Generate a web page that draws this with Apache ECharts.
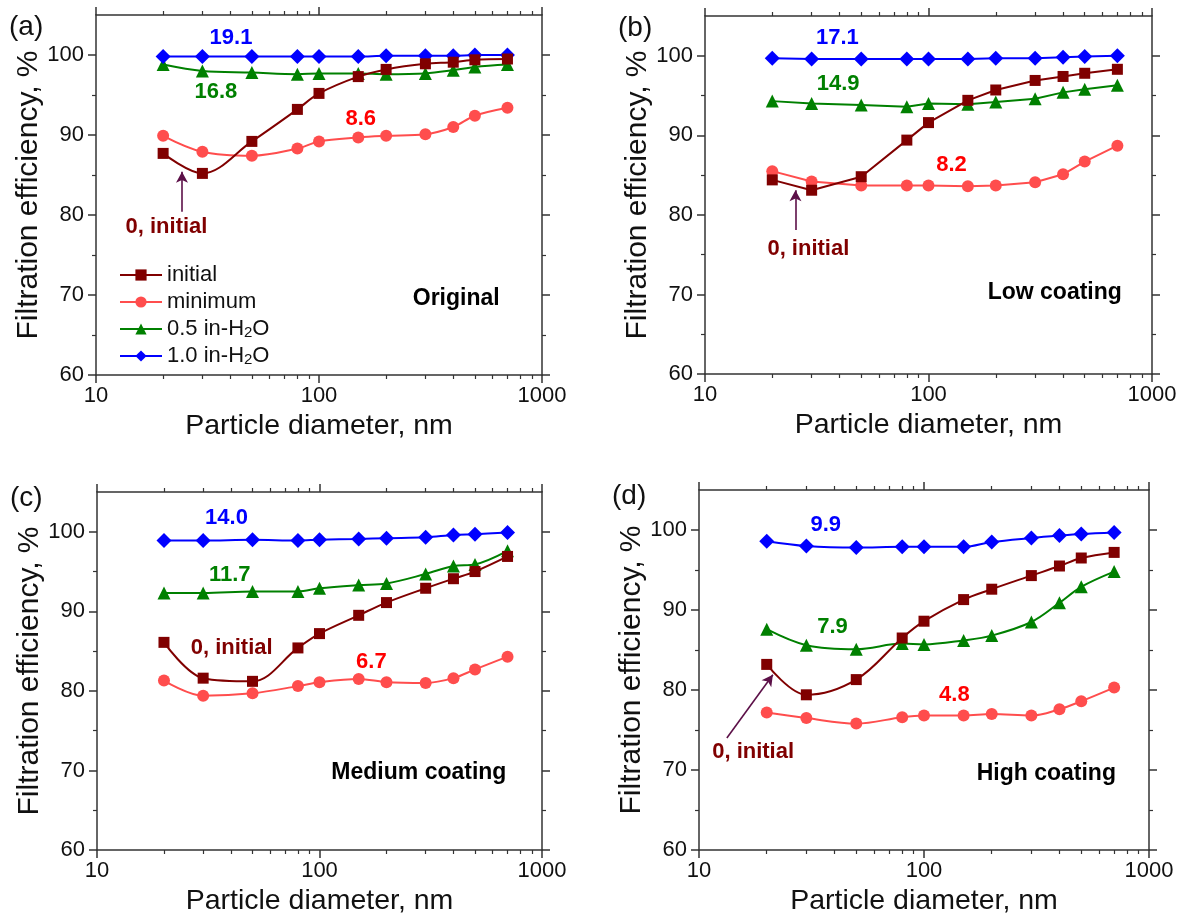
<!DOCTYPE html>
<html><head><meta charset="utf-8">
<script src="https://cdn.jsdelivr.net/npm/echarts@6/dist/echarts.min.js"></script>
<style>html,body{margin:0;padding:0;background:#fff}#c{width:1187px;height:920px}</style>
</head><body><div id="c"></div>
<script>
// ---------- data ----------
const diameters = [20, 30, 50, 80, 100, 150, 200, 300, 400, 500, 700];
const xTickLabels = [10, 100, 1000];
const xMinorTicks = [20, 30, 40, 50, 60, 70, 80, 90, 200, 300, 400, 500, 600, 700, 800, 900];
const yTickLabels = [60, 70, 80, 90, 100];
const yMinorTicks = [65, 75, 85, 95];
const seriesNames = ['initial', 'minimum', '0.5 in-H2O', '1.0 in-H2O'];
const panelLabels = ['(a)', '(b)', '(c)', '(d)'];
const panelTitles = ['Original', 'Low coating', 'Medium coating', 'High coating'];

const a_initial = [87.7, 85.2, 89.2, 93.2, 95.2, 97.3, 98.2, 98.9, 99.1, 99.4, 99.5];
const a_minimum = [89.9, 87.9, 87.4, 88.3, 89.2, 89.7, 89.9, 90.1, 91.0, 92.4, 93.4];
const a_05 = [98.8, 98.0, 97.8, 97.6, 97.7, 97.7, 97.6, 97.7, 98.1, 98.5, 98.8];
const a_10 = [99.8, 99.8, 99.8, 99.8, 99.8, 99.8, 99.9, 99.9, 99.9, 100.0, 100.0];

const b_initial = [84.4, 83.1, 84.8, 89.4, 91.6, 94.4, 95.7, 96.9, 97.4, 97.8, 98.3];
const b_minimum = [85.5, 84.2, 83.7, 83.7, 83.7, 83.6, 83.7, 84.1, 85.1, 86.7, 88.7];
const b_05 = [94.3, 94.0, 93.8, 93.6, 94.0, 93.9, 94.2, 94.6, 95.4, 95.8, 96.3];
const b_10 = [99.7, 99.6, 99.6, 99.6, 99.6, 99.6, 99.7, 99.7, 99.8, 99.9, 100.0];

const c_initial = [86.1, 81.6, 81.2, 85.4, 87.2, 89.5, 91.1, 92.9, 94.1, 95.0, 96.9];
const c_minimum = [81.3, 79.4, 79.7, 80.6, 81.1, 81.5, 81.1, 81.0, 81.6, 82.7, 84.3];
const c_05 = [92.3, 92.3, 92.5, 92.5, 92.9, 93.3, 93.5, 94.7, 95.7, 95.9, 97.6];
const c_10 = [98.9, 98.9, 99.0, 98.9, 99.0, 99.1, 99.2, 99.3, 99.6, 99.7, 99.9];

const d_initial = [83.2, 79.4, 81.3, 86.5, 88.6, 91.3, 92.6, 94.3, 95.5, 96.5, 97.2];
const d_minimum = [77.2, 76.5, 75.8, 76.6, 76.8, 76.8, 77.0, 76.8, 77.6, 78.6, 80.3];
const d_05 = [87.6, 85.6, 85.1, 85.8, 85.7, 86.2, 86.8, 88.5, 90.9, 92.9, 94.8];
const d_10 = [98.6, 98.0, 97.8, 97.9, 97.9, 97.9, 98.5, 99.0, 99.3, 99.5, 99.7];

const panelData = [
  [a_initial, a_minimum, a_05, a_10],
  [b_initial, b_minimum, b_05, b_10],
  [c_initial, c_minimum, c_05, c_10],
  [d_initial, d_minimum, d_05, d_10]
];

// annotation texts
const gainLabels = [
  ['19.1', '16.8', '8.6'],
  ['17.1', '14.9', '8.2'],
  ['14.0', '11.7', '6.7'],
  ['9.9', '7.9', '4.8']
];

// ---------- layout / style ----------
const FONT = 'Liberation Sans, Arial, sans-serif';
const colors = ['#800000', '#ff4d4d', '#008000', '#0000ff'];
const labelColors = ['#800000', '#ff0000', '#008000', '#0000ff'];
const symbols = ['rect', 'circle', 'triangle', 'diamond'];
const symbolSizes = [11, 12, 13, 15];
const smoothFlags = [0.35, false, 0.35, 0.35];
const grids = [
  {left: 96, top: 15, right: 645, bottom: 545},
  {left: 705, top: 16, right: 35, bottom: 546},
  {left: 97, top: 492, right: 645, bottom: 70},
  {left: 699, top: 490, right: 38, bottom: 70}
];
const panelLabelDy = [-2, -2, -8, -8];
// annotation positions (data coordinates)
const annoPos = [
  {blue: [40.3, 102.1], green: [34.5, 95.4], red: [154, 92.0], init: [20.7, 78.5], title: [646, 69.6], arrow: [[24.3, 80.4], [24.3, 85.4]]},
  {blue: [39.1, 102.2], green: [39.4, 96.5], red: [126.7, 86.3], init: [29, 75.7], title: [733, 70.2], arrow: [[25.4, 78.1], [25.4, 83.1]]},
  {blue: [38.2, 101.8], green: [39.5, 94.6], red: [171, 83.6], init: [40.3, 85.4], title: [692, 69.7], arrow: null},
  {blue: [36.6, 100.6], green: [39.2, 87.9], red: [136.5, 79.4], init: [17.4, 72.2], title: [713, 69.6], arrow: [[13.3, 74.0], [21.3, 81.9]]}
];

const AXC = '#333';
const gridOpts = [], xAxes = [], yAxes = [], series = [], graphics = [];
const logMinor = xMinorTicks.map(v => Math.log10(v));

grids.forEach((g, gi) => {
  const mainGrid = gridOpts.length;
  gridOpts.push(Object.assign({containLabel: false}, g));
  const overGrid = gridOpts.length;
  gridOpts.push(Object.assign({containLabel: false}, g));

  const xi = xAxes.length, yi = yAxes.length;
  const base = {type: 'log', logBase: 10, min: 10, max: 1000, gridIndex: mainGrid, splitLine: {show: false}};
  xAxes.push(Object.assign({}, base, {
    position: 'bottom',
    axisLine: {show: true, lineStyle: {color: AXC, width: 1.5}},
    axisTick: {show: true, length: 8, lineStyle: {color: AXC, width: 1.5}},
    axisLabel: {show: true, fontSize: 22, color: '#111', fontFamily: FONT, margin: 10,
      formatter: v => String(Math.round(v))},
    name: 'Particle diameter, nm', nameLocation: 'middle', nameGap: 37,
    nameTextStyle: {fontSize: 28.5, color: '#111', fontFamily: FONT}
  }));
  xAxes.push(Object.assign({}, base, {
    position: 'top',
    axisLine: {show: true, lineStyle: {color: AXC, width: 1.5}},
    axisTick: {show: true, length: 8, lineStyle: {color: AXC, width: 1.5}},
    axisLabel: {show: false}
  }));
  const minorX = {type: 'value', min: 1, max: 3, gridIndex: overGrid, splitLine: {show: false},
    axisLine: {show: false}, axisLabel: {show: false},
    axisTick: {show: true, length: 4, customValues: logMinor, lineStyle: {color: AXC, width: 1.2}}};
  xAxes.push(Object.assign({}, minorX, {position: 'bottom'}));
  xAxes.push(Object.assign({}, minorX, {position: 'top'}));

  const ybase = {type: 'value', min: 60, max: 105, interval: 10, gridIndex: mainGrid, splitLine: {show: false}};
  yAxes.push(Object.assign({}, ybase, {
    position: 'left',
    axisLine: {show: true, lineStyle: {color: AXC, width: 1.5}},
    axisTick: {show: true, length: 8, customValues: yTickLabels, lineStyle: {color: AXC, width: 1.5}},
    axisLabel: {show: true, customValues: yTickLabels, fontSize: 22, color: '#111', fontFamily: FONT, margin: 12},
    name: 'Filtration efficiency, %', nameLocation: 'middle', nameGap: 48, nameRotate: 90,
    nameTextStyle: {fontSize: 30, color: '#111', fontFamily: FONT}
  }));
  yAxes.push(Object.assign({}, ybase, {
    position: 'right',
    axisLine: {show: true, lineStyle: {color: AXC, width: 1.5}},
    axisTick: {show: true, length: 8, customValues: yTickLabels, lineStyle: {color: AXC, width: 1.5}},
    axisLabel: {show: false}
  }));
  const minorY = {type: 'value', min: 60, max: 105, gridIndex: overGrid, splitLine: {show: false},
    axisLine: {show: false}, axisLabel: {show: false},
    axisTick: {show: true, length: 4, customValues: yMinorTicks, lineStyle: {color: AXC, width: 1.2}}};
  yAxes.push(Object.assign({}, minorY, {position: 'left'}));
  yAxes.push(Object.assign({}, minorY, {position: 'right'}));

  panelData[gi].forEach((vals, si) => {
    series.push({
      type: 'line', name: seriesNames[si], xAxisIndex: xi, yAxisIndex: yi,
      data: diameters.map((d, k) => [d, vals[k]]),
      smooth: smoothFlags[gi],
      symbol: symbols[si], symbolSize: symbolSizes[si],
      lineStyle: {color: colors[si], width: 2},
      itemStyle: {color: colors[si]},
      z: si === 0 ? 4 : 3
    });
  });

  const p = annoPos[gi];
  const bold = {fontWeight: 'bold', fontFamily: FONT, fontSize: 22, textBorderWidth: 0, opacity: 1};
  const annoData = [
    {name: gainLabels[gi][0], value: p.blue, label: Object.assign({color: labelColors[3]}, bold)},
    {name: gainLabels[gi][1], value: p.green, label: Object.assign({color: labelColors[2]}, bold)},
    {name: gainLabels[gi][2], value: p.red, label: Object.assign({color: labelColors[1]}, bold)},
    {name: '0, initial', value: p.init, label: Object.assign({color: labelColors[0]}, bold)},
    {name: panelTitles[gi], value: p.title, label: Object.assign({}, bold, {color: '#000', fontSize: 23, align: 'right'})}
  ];
  const annoSeries = {
    type: 'scatter', name: 'anno' + gi, xAxisIndex: xi, yAxisIndex: yi, silent: true,
    symbolSize: 0, itemStyle: {color: '#fff'},
    label: {show: true, position: 'inside', formatter: '{b}', textBorderWidth: 0},
    data: annoData, z: 5
  };
  if (p.arrow) {
    annoSeries.markLine = {
      silent: true, symbol: ['none', 'arrow'], symbolSize: [9, 11],
      lineStyle: {color: '#5c1048', width: 1.6, type: 'solid'},
      label: {show: false},
      data: [[{coord: p.arrow[0]}, {coord: p.arrow[1]}]]
    };
  }
  series.push(annoSeries);

  graphics.push({
    type: 'text', left: g.left - 87, top: g.top + panelLabelDy[gi],
    style: {text: panelLabels[gi], fontSize: 28, fontFamily: FONT, fill: '#111'}
  });
});

const chart = echarts.init(document.getElementById('c'), null, {renderer: 'canvas'});
chart.setOption({
  animation: false,
  backgroundColor: '#fff',
  textStyle: {fontFamily: FONT},
  grid: gridOpts,
  xAxis: xAxes,
  yAxis: yAxes,
  legend: {
    data: seriesNames, orient: 'vertical', left: 114, top: 259,
    itemWidth: 42, itemHeight: 14, itemGap: 5, selectedMode: false,
    textStyle: {fontSize: 22, color: '#111', fontFamily: FONT,
      rich: {n: {fontSize: 22, color: '#111', fontFamily: FONT}, s: {fontSize: 15, color: '#111', fontFamily: FONT, verticalAlign: 'bottom'}}},
    formatter: name => name.indexOf('H2O') >= 0 ? '{n|' + name.replace('H2O', 'H') + '}{s|2}{n|O}' : name
  },
  graphic: graphics,
  series: series
});
</script></body></html>
